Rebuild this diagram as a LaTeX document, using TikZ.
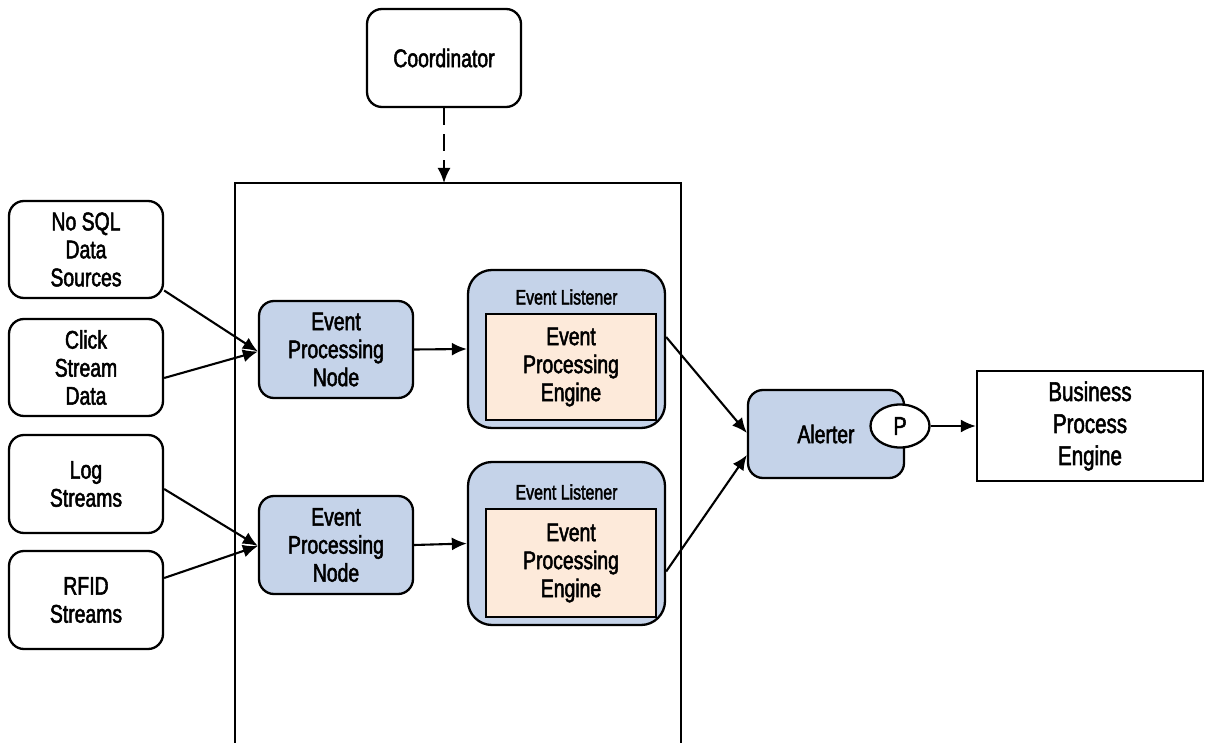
\documentclass[tikz,border=0pt]{standalone}
\usepackage{fontspec}
\setmainfont{Liberation Sans}[FakeStretch=0.76,FakeBold=2]
\usetikzlibrary{arrows.meta,shapes.geometric}
\definecolor{bluefill}{RGB}{197,211,233}
\definecolor{peachfill}{RGB}{253,234,218}
\begin{document}
\begin{tikzpicture}[x=1pt,y=-1pt,
  every node/.style={align=center,font=\fontsize{25.5}{28}\selectfont},
  srcbox/.style={draw,line width=2.3pt,rounded corners=15pt,minimum width=154pt,minimum height=97pt,fill=white},
  bluebox/.style={draw,line width=2.3pt,rounded corners=15pt,minimum width=154pt,minimum height=97pt,fill=bluefill},
  listenerbox/.style={draw,line width=2.3pt,rounded corners=24pt,minimum width=197pt,fill=bluefill},
  enginebox/.style={draw,line width=2.3pt,minimum width=170pt,fill=peachfill},
  smalllabel/.style={font=\fontsize{21}{22}\selectfont},
  conn/.style={line width=2.1pt,-{Latex[length=15pt,width=13pt]}}
]
\useasboundingbox (0,0) rectangle (1212,743);
% container
\draw[line width=2.3pt] (235,760) -- (235,183) -- (681,183) -- (681,760);
\coordinate (ctop) at (444,183);
% coordinator
\node[srcbox,minimum height=98pt] (coord) at (444,58) {Coordinator};
\draw[line width=2.1pt,dash pattern=on 17pt off 9pt,-{Latex[length=15pt,width=13pt]}] (coord.south) -- (ctop);
% sources
\node[srcbox] (nosql) at (86,249.5) {No SQL\\Data\\Sources};
\node[srcbox] (click) at (86,367.5) {Click\\Stream\\Data};
\node[srcbox,minimum height=98pt] (log) at (86,484) {Log\\Streams};
\node[srcbox,minimum height=98pt] (rfid) at (86,600) {RFID\\Streams};
% processing nodes
\node[bluebox] (epn1) at (336,349.5) {Event\\Processing\\Node};
\node[bluebox,minimum height=98pt] (epn2) at (336,545) {Event\\Processing\\Node};
% listeners
\node[listenerbox,minimum height=158pt] (el1) at (566.5,349) {};
\node[enginebox,minimum height=106pt] (eng1) at (571,367) {Event\\Processing\\Engine};
\node[smalllabel] (ell1) at (566.5,297) {Event Listener};
\node[listenerbox,minimum height=163pt] (el2) at (566.5,543.5) {};
\node[enginebox,minimum height=108pt] (eng2) at (571,563) {Event\\Processing\\Engine};
\node[smalllabel] (ell2) at (566.5,492) {Event Listener};
% alerter
\node[bluebox,minimum width=156pt,minimum height=88pt] (alert) at (826,434) {Alerter};
\node[draw,ellipse,line width=2.3pt,fill=white,minimum width=59pt,minimum height=43pt,inner sep=0pt,font=\fontsize{26}{28}\selectfont] (p) at (900,426) {P};
% business process engine
\node[draw,line width=2.3pt,minimum width=226pt,minimum height=110pt,font=\fontsize{27}{32}\selectfont] (bpe) at (1090,426) {Business\\Process\\Engine};
% connectors
\draw[conn] ([yshift=-41pt]nosql.east) -- ([yshift=-2pt]epn1.west);
\draw[conn] ([yshift=-10.5pt]click.east) -- ([yshift=-2pt]epn1.west);
\draw[conn] ([yshift=-5pt]log.east) -- ([yshift=-1pt]epn2.west);
\draw[conn] ([yshift=22pt]rfid.east) -- ([yshift=-1pt]epn2.west);
\draw[conn] (epn1.east) -- (el1.west);
\draw[conn] (epn2.east) -- (el2.west);
\draw[conn] ([yshift=12pt]el1.east) -- ([yshift=1pt]alert.west);
\draw[conn] ([yshift=-28pt]el2.east) -- ([yshift=-21pt]alert.west);
\draw[conn] (p.east) -- (bpe.west);
\end{tikzpicture}
\end{document}
